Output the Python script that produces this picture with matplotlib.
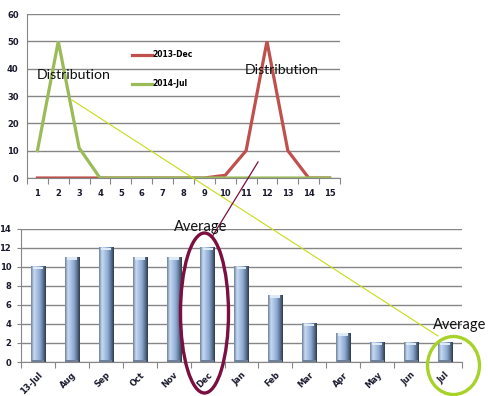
import matplotlib
matplotlib.use("Agg")
import matplotlib.pyplot as plt
import numpy as np
from matplotlib.colors import LinearSegmentedColormap
from matplotlib.lines import Line2D
from matplotlib.patches import Ellipse

# top chart: distribution by position
positions = list(range(1, 16))
dec_2013 = [0, 0, 0, 0, 0, 0, 0, 0, 0, 1, 10, 50, 10, 0, 0]
jul_2014 = [10, 50, 11, 0, 0, 0, 0, 0, 0, 0, 0, 0, 0, 0, 0]

# bottom chart: monthly averages
months = ["13-Jul", "Aug", "Sep", "Oct", "Nov", "Dec", "Jan", "Feb",
          "Mar", "Apr", "May", "Jun", "Jul"]
averages = [10, 11, 12, 11, 11, 12, 10, 7, 4, 3, 2, 2, 2]

W, H = 489, 396
fig = plt.figure(figsize=(W / 100, H / 100), dpi=100)
fig.patch.set_facecolor("white")

grid_c = "#868686"
tick_font = dict(family="DejaVu Sans", size=6, weight="bold", color="#1a1a2e")

# ---- top line chart ----
ax1 = fig.add_axes([27 / W, 1 - 178 / H, 313 / W, 164 / H])
ax1.plot(positions, dec_2013, color="#c0504d", lw=2.3, label="2013-Dec",
         solid_joinstyle="miter")
ax1.plot(positions, jul_2014, color="#9bbb59", lw=2.3, label="2014-Jul",
         solid_joinstyle="miter")
ax1.set_xlim(0.5, 15.5)
ax1.set_ylim(0, 60)
ax1.set_yticks(range(0, 61, 10))
ax1.set_xticks(np.arange(0.5, 16, 1))
ax1.set_xticklabels([])
ax1.set_xticks(positions, minor=True)
ax1.set_xticklabels([str(p) for p in positions], minor=True, **tick_font)
ax1.tick_params(axis="x", which="major", length=4, color=grid_c)
ax1.tick_params(axis="x", which="minor", length=0, pad=8)
ax1.tick_params(axis="y", length=0, pad=6)
for t in ax1.get_yticklabels():
    t.set(**tick_font)
ax1.grid(axis="y", color=grid_c, lw=1)
ax1.set_axisbelow(True)
for s in ["top", "right"]:
    ax1.spines[s].set_visible(False)
for s in ["left", "bottom"]:
    ax1.spines[s].set_color(grid_c)
leg = ax1.legend(loc="upper left", bbox_to_anchor=(0.315, 0.82), frameon=False,
                 handlelength=2.6, handletextpad=0.0, labelspacing=2.6,
                 prop=dict(family="DejaVu Sans", size=5.5, weight="bold"))
ax1.text(0.03, 0.605, "Distribution", transform=ax1.transAxes,
         family="Lato", fontsize=10.2, color="#111111")
ax1.text(0.697, 0.635, "Distribution", transform=ax1.transAxes,
         family="Lato", fontsize=10.2, color="#111111")

# ---- bottom bar chart ----
ax2 = fig.add_axes([21 / W, 1 - 362 / H, 441 / W, 133.3 / H])
x = np.arange(len(months))
bw = 0.42
cmap = LinearSegmentedColormap.from_list(
    "bevel", ["#6f83a0", "#c9daf0", "#a9c2e4", "#8eaad2", "#5f7696", "#2f3b4c"])
grad = np.linspace(0, 1, 64).reshape(1, -1)
for xi, v in zip(x, averages):
    ax2.imshow(grad, cmap=cmap, aspect="auto", interpolation="bilinear",
               extent=[xi - bw / 2, xi + bw / 2, 0, v], zorder=2)
    ax2.bar(xi, 0.25, bottom=v - 0.25, width=bw * 0.7, color="#dfeaf7", zorder=3)
    ax2.bar(xi, 0.2, bottom=0, width=bw * 0.9, color="#6d7f99", zorder=3)
ax2.set_xlim(-0.5, len(months) - 0.5)
ax2.set_ylim(0, 14)
ax2.set_aspect("auto")
ax2.set_yticks(range(0, 15, 2))
ax2.set_xticks(np.arange(-0.5, len(months), 1))
ax2.set_xticklabels([])
ax2.set_xticks(x, minor=True)
ax2.set_xticklabels(months, minor=True, rotation=45, ha="right",
                    rotation_mode="anchor", **tick_font)
ax2.tick_params(axis="x", which="major", length=4, color=grid_c)
ax2.tick_params(axis="x", which="minor", length=0, pad=6)
ax2.tick_params(axis="y", length=3, color=grid_c, pad=4)
for t in ax2.get_yticklabels():
    t.set(**tick_font)
ax2.grid(axis="y", color=grid_c, lw=1, zorder=0)
ax2.set_axisbelow(True)
for s in ["top", "right"]:
    ax2.spines[s].set_visible(False)
for s in ["left", "bottom"]:
    ax2.spines[s].set_color(grid_c)

# ---- annotations in figure pixel space ----
def fx(px):
    return px / W

def fy(py):
    return 1 - py / H

fig.add_artist(Line2D([fx(72), fx(438)], [fy(100), fy(336)],
                      color="#c8dc14", lw=0.8))
fig.add_artist(Line2D([fx(258), fx(212)], [fy(162), fy(237)],
                      color="#7a0f40", lw=0.9))
fig.add_artist(Ellipse((fx(204.5), fy(313)), 48 / W, 160 / H, fill=False,
                       edgecolor="#7a0f40", lw=2.4))
fig.add_artist(Ellipse((fx(453.5), fy(365.5)), 52 / W, 58 / H, fill=False,
                       edgecolor="#a6d22a", lw=2.4))
fig.text(fx(174), fy(231), "Average", family="Lato", fontsize=10.5, color="#111111")
fig.text(fx(433), fy(329), "Average", family="Lato", fontsize=10.5, color="#111111")

fig.savefig("out.png", dpi=100)
